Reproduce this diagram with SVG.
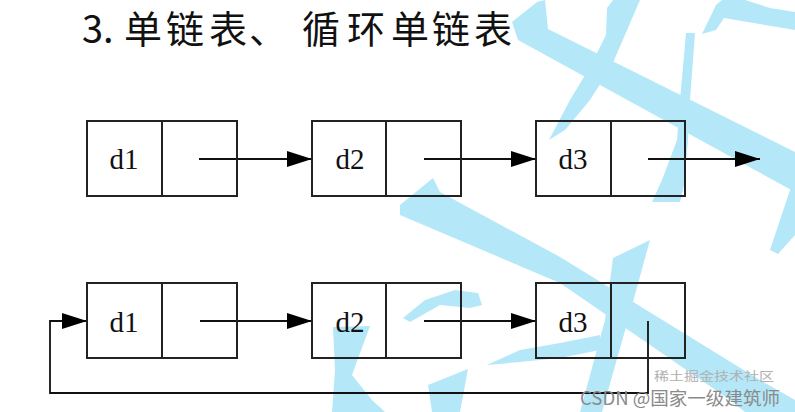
<svg xmlns="http://www.w3.org/2000/svg" width="795" height="412" viewBox="0 0 795 412">
<style>
.box{fill:none;stroke:#222;stroke-width:2}
.lbl{font-family:"Liberation Serif","DejaVu Serif",serif;font-size:29px;fill:#111;text-anchor:middle}
.ln{fill:none;stroke:#111;stroke-width:1.8}
.wm{fill:#b4e8f8}
</style>
<defs>
<marker id="ah" markerWidth="26" markerHeight="16" refX="25" refY="8" markerUnits="userSpaceOnUse" orient="auto">
<path d="M0,0 L25,8 L0,16 Z" fill="#000"/>
</marker>
</defs>
<rect width="795" height="412" fill="#fff"/>
<g id="stripes">
<polygon class="wm" points="512,22 537,2 545,0 548,29 795,152 795,192 518,40"/>
<polygon class="wm" points="613,0 640,0 612,65 590,100 565,130 549,140 570,100 590,67 606,35 607,8"/>
<polygon class="wm" points="686,33 695,33 690,100 688,140 684,185 680,202 652,202 662,180 677,140 680,100"/>
<polygon class="wm" points="702,34 716,5 722,0 745,0 770,8 795,12 795,30 765,25 724,18 716,30"/>
<polygon class="wm" points="795,175 795,235 778,254 770,250"/>
<polygon class="wm" points="400,205 433,178 440,192 560,257 760,380 795,400 795,412 745,412 730,400 560,283 400,215"/>
<polygon class="wm" points="333,327 370,326 352,375 372,400 385,412 332,412 335,370"/>
<polygon class="wm" points="403,318 425,300 455,290 478,293 482,305 470,308 440,305 410,322"/>
<polygon class="wm" points="428,385 468,369 460,412 432,412"/>
<polygon class="wm" points="487,365 520,350 560,343 600,335 600,350 560,358 520,362"/>
<polygon class="wm" points="613,258 650,240 628,320 602,412 580,412 605,320"/>
</g>
<g id="title">
<text y="43" font-family="'Noto Sans CJK SC','Noto Sans',sans-serif" font-size="38" fill="#111"><tspan x="82">3.</tspan><tspan x="124 166 209 249 302 347 391 432 474">单链表、循环单链表</tspan></text>
</g>
<g id="connectors">
<line class="ln" x1="199" y1="159" x2="312" y2="159" marker-end="url(#ah)"/>
<line class="ln" x1="424" y1="159" x2="536" y2="159" marker-end="url(#ah)"/>
<line class="ln" x1="648" y1="159" x2="760" y2="159" marker-end="url(#ah)"/>
<line class="ln" x1="200" y1="321" x2="312" y2="321" marker-end="url(#ah)"/>
<line class="ln" x1="424" y1="321" x2="536" y2="321" marker-end="url(#ah)"/>
<polyline class="ln" points="648,321 648,393 50,393 50,321 87,321" marker-end="url(#ah)"/>
</g>
<g id="r1n1"><rect class="box" x="87" y="121" width="150" height="75"/><line class="box" x1="162" y1="121" x2="162" y2="196"/><text class="lbl" x="124" y="169">d1</text></g>
<g id="r1n2"><rect class="box" x="312" y="121" width="149" height="75"/><line class="box" x1="386" y1="121" x2="386" y2="196"/><text class="lbl" x="350" y="169">d2</text></g>
<g id="r1n3"><rect class="box" x="536" y="121" width="149" height="75"/><line class="box" x1="611" y1="121" x2="611" y2="196"/><text class="lbl" x="573" y="169">d3</text></g>
<g id="r2n1"><rect class="box" x="87" y="283" width="150" height="75"/><line class="box" x1="162" y1="283" x2="162" y2="358"/><text class="lbl" x="124" y="332">d1</text></g>
<g id="r2n2"><rect class="box" x="312" y="283" width="149" height="75"/><line class="box" x1="386" y1="283" x2="386" y2="358"/><text class="lbl" x="350" y="332">d2</text></g>
<g id="r2n3"><rect class="box" x="536" y="283" width="149" height="75"/><line class="box" x1="611" y1="283" x2="611" y2="358"/><text class="lbl" x="573" y="332">d3</text></g>
<g id="watermark-text">
<text x="654" y="381" font-family="'Noto Sans CJK SC',sans-serif" font-size="12" fill="#b0b0b0" textLength="120" lengthAdjust="spacingAndGlyphs">稀土掘金技术社区</text>
<text x="580" y="405" font-family="'Noto Sans CJK SC',sans-serif" font-size="18" fill="#8a8a8a" textLength="200" lengthAdjust="spacingAndGlyphs">CSDN @国家一级建筑师</text>
</g>
</svg>
